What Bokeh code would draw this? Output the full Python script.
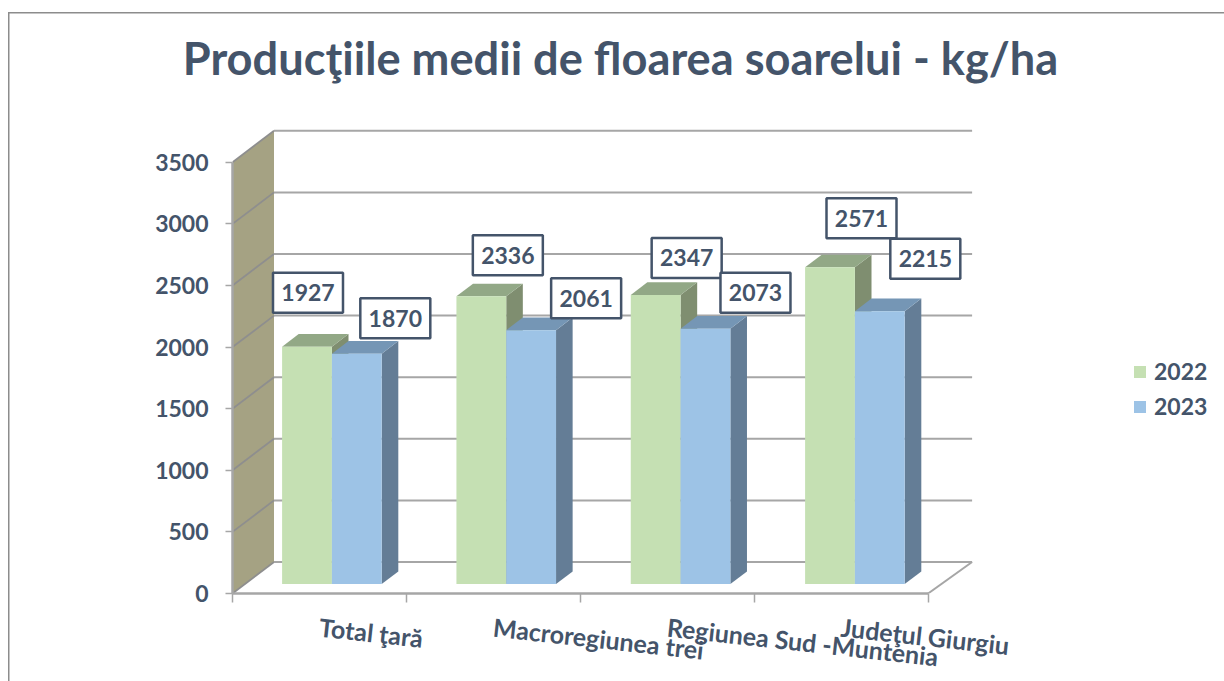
from bokeh.plotting import figure
from bokeh.models import ColumnDataSource, FixedTicker, Range1d, Title, Legend, LegendItem
from bokeh.core.properties import value
from bokeh.embed import file_html
from bokeh.resources import INLINE

# ---- data ----
categories = ["Total ţară", "Macroregiunea trei", "Regiunea Sud -Muntenia", "Judeţul Giurgiu"]
series_names = ["2022", "2023"]
values_2022 = [1927, 2336, 2347, 2571]
values_2023 = [1870, 2061, 2073, 2215]
y_ticks = [0, 500, 1000, 1500, 2000, 2500, 3000, 3500]
title_text = "Producţiile medii de floarea soarelui - kg/ha"

# ---- styles / layout ----
FONT = "Lato"
TEXT = "#44546A"
GRID = "#A6A6A6"
WALL_LINE = "#8E8E8E"
EDGE = "#8C8C8C"
PX_CAT = 173.9          # pixels per category
PX_VAL = 61.6 / 500     # pixels per value unit
DEPTH_X, DEPTH_Y = 41.5, 31.5   # pixel shift of the back wall
BACK_EXTRA = 2.5        # the back edge runs this many pixels further to the right
BAR_START, BAR_W, BAR_STEP = 0.2136, 0.2864, 1.0025
BAR_D0, BAR_D1 = 0.30, 0.70

# manual label placement relative to the top-centre of each bar, in pixels
offs_2022 = [(1, -54), (26.5, -41), (31, -37), (31.5, -49)]
offs_2023 = [(38.5, -35.5), (55, -32), (50, -36), (45.5, -52.5)]


def proj(x, v, d):
    """Oblique projection of (category x, value, depth 0..1) into data coordinates."""
    return x + d * DEPTH_X / PX_CAT, v + d * DEPTH_Y / PX_VAL


def poly(points):
    pts = [proj(*q) for q in points]
    return [q[0] for q in pts], [q[1] for q in pts]


FRAME_W, FRAME_H = 776, 493
p = figure(width=1224, height=681, output_backend="svg", toolbar_location=None,
           x_range=Range1d(0, FRAME_W / PX_CAT), y_range=Range1d(0, FRAME_H / PX_VAL),
           frame_width=FRAME_W, frame_height=FRAME_H,
           min_border_left=232, min_border_right=216, min_border_top=100, min_border_bottom=88)
p.outline_line_color = None
p.grid.visible = False

# outer line of the picture, top and left only
p.border_fill_alpha = 0
p.background_fill_alpha = 0
line = f"linear-gradient({EDGE},{EDGE})"
p.styles = {"background": f"{line} 8px 12px / 100% 1.5px no-repeat, {line} 8px 12px / 1.5px 100% no-repeat"}

p.title = Title(text=title_text, align="center", text_font=FONT, text_font_style="bold",
                text_font_size="45.2px", text_color=TEXT, standoff=32)

# axes
xa = p.xaxis[0]
xa.ticker = FixedTicker(ticks=[i + 0.5 for i in range(len(categories))],
                        minor_ticks=list(range(len(categories) + 1)))
xa.major_label_overrides = {i + 0.5: c for i, c in enumerate(categories)}
xa.bounds = (0, len(categories))
xa.major_tick_out = 0
xa.major_tick_in = 0
xa.minor_tick_out = 9
xa.minor_tick_in = 0
xa.minor_tick_line_color = GRID
xa.minor_tick_line_width = 1.5
xa.axis_line_color = GRID
xa.axis_line_width = 2.5
xa.major_label_orientation = -0.11
xa.major_label_standoff = 24
xa.major_label_text_font = FONT
xa.major_label_text_font_style = "bold"
xa.major_label_text_font_size = "25px"
xa.major_label_text_color = TEXT

ya = p.yaxis[0]
ya.ticker = FixedTicker(ticks=y_ticks)
ya.bounds = (y_ticks[0], y_ticks[-1])
ya.major_tick_out = 7
ya.major_tick_in = 0
ya.minor_tick_out = 0
ya.minor_tick_in = 0
ya.major_tick_line_color = GRID
ya.major_tick_line_width = 1.5
ya.axis_line_color = GRID
ya.axis_line_width = 2.5
ya.major_label_standoff = 17
ya.major_label_text_font = FONT
ya.major_label_text_font_style = "bold"
ya.major_label_text_font_size = "23px"
ya.major_label_text_color = TEXT

# side wall
top = y_ticks[-1]
wx, wy = poly([(0, 0, 0), (0, 0, 1), (0, top, 1), (0, top, 0)])
p.patch(wx, wy, fill_color="#A5A283", line_color=None)

# gridlines: along the wall, and along the back
n = len(categories)
right_back = n + BACK_EXTRA / PX_CAT
wx0, wy0, wx1, wy1, bx0, by0, bx1, by1 = [], [], [], [], [], [], [], []
for t in y_ticks:
    a, b, c = proj(0, t, 0), proj(0, t, 1), proj(right_back, t, 1)
    wx0.append(a[0]); wy0.append(a[1]); wx1.append(b[0]); wy1.append(b[1])
    bx0.append(b[0]); by0.append(b[1]); bx1.append(c[0]); by1.append(c[1])
p.segment(wx0, wy0, wx1, wy1, line_color=WALL_LINE, line_width=1.8)
p.segment(bx0, by0, bx1, by1, line_color=GRID, line_width=2)
# right edge of the floor
a, b = proj(n, 0, 0), proj(right_back, 0, 1)
p.segment([a[0]], [a[1]], [b[0]], [b[1]], line_color=GRID, line_width=2)


def bars(vals, shift, c_front, c_top, c_side):
    left = [i * BAR_STEP + BAR_START + shift * BAR_W for i in range(len(vals))]
    right = [l + BAR_W for l in left]
    side = [poly([(r, 0, BAR_D0), (r, 0, BAR_D1), (r, v, BAR_D1), (r, v, BAR_D0)])
            for r, v in zip(right, vals)]
    upper = [poly([(l, v, BAR_D0), (l, v, BAR_D1), (r, v, BAR_D1), (r, v, BAR_D0)])
             for l, r, v in zip(left, right, vals)]
    front = [poly([(l, 0, BAR_D0), (r, 0, BAR_D0), (r, v, BAR_D0), (l, v, BAR_D0)])
             for l, r, v in zip(left, right, vals)]
    p.patches([q[0] for q in side], [q[1] for q in side], fill_color=c_side, line_color=None)
    p.patches([q[0] for q in upper], [q[1] for q in upper], fill_color=c_top, line_color=None)
    return p.patches([q[0] for q in front], [q[1] for q in front], fill_color=c_front,
                     line_color=None)


r_2022 = bars(values_2022, 0, "#C5E0B3", "#92A886", "#7F8E70")
r_2023 = bars(values_2023, 1, "#9DC3E6", "#7596B5", "#647D96")

# data labels
lx, ly, lt = [], [], []
for shift, vals, offs in ((0, values_2022, offs_2022), (1, values_2023, offs_2023)):
    for i, (v, o) in enumerate(zip(vals, offs)):
        cx, cy = proj(i * BAR_STEP + BAR_START + (shift + 0.5) * BAR_W, v, BAR_D0)
        lx.append(cx + o[0] / PX_CAT)
        ly.append(cy - o[1] / PX_VAL)
        lt.append(str(v))
src = ColumnDataSource(dict(x=lx, y=ly, t=lt))
p.rect("x", "y", source=src, width=70, height=40, width_units="screen", height_units="screen",
       fill_color="white", line_color=TEXT, line_width=2.5)
p.text("x", "y", text="t", source=src, text_align="center", text_baseline="middle",
       text_font=value(FONT), text_font_style="bold", text_font_size="23px", text_color=TEXT)

# legend
legend = Legend(items=[LegendItem(label=series_names[0], renderers=[r_2022]),
                       LegendItem(label=series_names[1], renderers=[r_2023])],
                location=(124, 173), orientation="vertical",
                border_line_color=None, background_fill_alpha=0,
                glyph_width=15, glyph_height=15, label_standoff=7, spacing=7,
                label_text_font=FONT, label_text_font_style="bold",
                label_text_font_size="23px", label_text_color=TEXT,
                margin=0, padding=0)
p.add_layout(legend, "right")

open("out.html", "w").write(file_html(p, INLINE))
